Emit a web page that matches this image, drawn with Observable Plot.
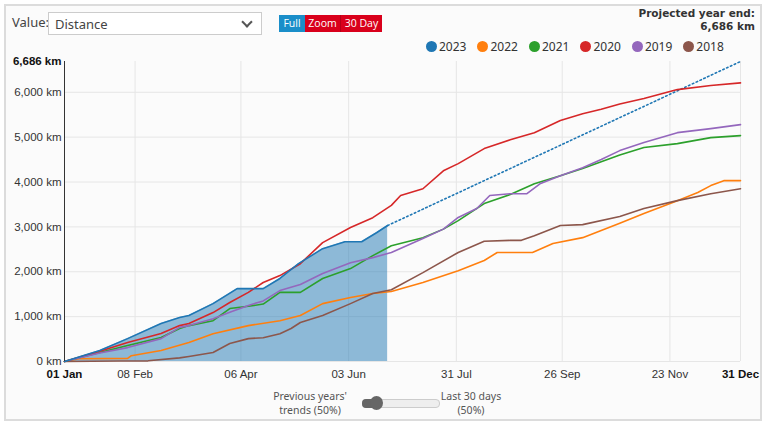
<!DOCTYPE html>
<html><head><meta charset="utf-8">
<script src="https://cdn.jsdelivr.net/npm/d3@7"></script>
<script src="https://cdn.jsdelivr.net/npm/@observablehq/plot@0.6"></script>
<style>
body{margin:0;background:#fff;font-family:"Noto Sans",sans-serif;}
#page{position:absolute;left:0;top:0;width:768px;height:427px;overflow:hidden;}
#frame{position:absolute;left:4px;top:4px;width:758px;height:417px;border:2px solid #dcdcdc;background:#fbfbfb;box-sizing:border-box;}
.lbl{position:absolute;font-size:13px;color:#444;}
#sel{position:absolute;left:48px;top:12px;width:214px;height:23px;border:1px solid #ccc;background:#fff;box-sizing:border-box;font-size:13px;color:#444;padding:2px 6px;}
#sel span.chev{position:absolute;right:10px;top:5px;width:6px;height:6px;border-right:2px solid #555;border-bottom:2px solid #555;transform:rotate(45deg);}
.btn{position:absolute;top:15px;height:17px;font-size:10.5px;color:#fff;line-height:17px;text-align:center;font-family:"Open Sans",sans-serif;}
#proj{position:absolute;right:13px;top:7px;text-align:right;font-size:10.5px;font-weight:bold;color:#333;line-height:13px;font-family:"DejaVu Sans",sans-serif;}
#legend{position:absolute;left:426px;top:38px;font-size:12px;color:#333;white-space:nowrap;}
#legend span{display:inline-block;margin-right:11px;}
#legend i{display:inline-block;width:11px;height:11px;border-radius:50%;vertical-align:-1px;margin-right:2px;}
#chart{position:absolute;left:0;top:50px;}
.bt{position:absolute;font-size:10.5px;color:#555;text-align:center;line-height:14px;}
#track{position:absolute;left:362px;top:399px;width:76px;height:7px;border:1px solid #ccc;border-radius:4px;background:#eee;}
#fillbar{position:absolute;left:362px;top:399px;width:16px;height:9px;border-radius:4px;background:#666;}
#knob{position:absolute;left:370px;top:396px;width:13px;height:14px;border-radius:50%;background:#666;}
</style></head>
<body>
<div id="page">
<div id="frame"></div>
<div class="lbl" style="left:12px;top:13px;">Value:</div>
<div id="sel">Distance<span class="chev"></span></div>
<div class="btn" style="left:279px;width:26px;background:#1a8ec9;">Full</div>
<div class="btn" style="left:305px;width:35px;background:#d9001b;">Zoom</div>
<div class="btn" style="left:340px;width:41px;background:#d9001b;border-left:1px solid #b50016;">30 Day</div>
<div id="proj">Projected year end:<br>6,686 km</div>
<div id="legend"></div>
<div id="chart"></div>
<div class="bt" style="left:258px;top:389px;width:104px;">Previous years'<br>trends (50%)</div>
<div id="track"></div><div id="fillbar"></div><div id="knob"></div>
<div class="bt" style="left:436px;top:389px;width:70px;">Last 30 days<br>(50%)</div>
</div>
<script>
// ---- data (day of year, cumulative km) ----
const years = ["2023","2022","2021","2020","2019","2018"];
const colors = ["#1f77b4","#ff7f0e","#2ca02c","#d62728","#9467bd","#8c564b"];

const days2023 = [0,19,34,52,62,67,80,93,107,116,126,139,151,160,168,174];
const km2023   = [0,245,510,845,980,1025,1290,1625,1625,1850,2180,2515,2670,2670,2870,3030];

const days2022 = [0,8,34,36,52,67,80,99,116,127,139,154,166,176,193,212,226,233,252,263,279,289,299,312,330,341,348,355,364];
const km2022   = [0,60,70,130,245,425,620,800,910,1025,1290,1425,1515,1560,1760,2025,2250,2430,2430,2630,2760,2920,3080,3300,3585,3765,3920,4030,4030];

const days2021 = [0,19,34,52,62,67,80,89,99,107,116,127,139,154,166,176,193,204,212,226,240,253,267,279,289,299,312,330,348,364];
const km2021   = [0,200,355,535,735,800,910,1180,1230,1280,1540,1540,1850,2070,2360,2580,2760,2950,3140,3520,3720,3960,4140,4300,4450,4600,4770,4855,4990,5035];

const days2020 = [0,19,34,52,62,67,80,89,99,107,116,127,139,154,166,176,181,193,204,212,226,240,253,267,279,289,299,312,330,348,364];
const km2020   = [0,230,425,625,800,845,1090,1315,1540,1760,1915,2180,2650,2985,3205,3480,3700,3850,4250,4410,4745,4940,5100,5370,5520,5620,5740,5860,6060,6150,6210];

const days2019 = [0,19,34,52,62,67,80,89,99,107,116,127,139,154,166,176,193,204,212,222,229,240,249,256,267,279,289,299,312,330,348,364];
const km2019   = [0,190,310,510,760,800,955,1100,1250,1350,1580,1715,1960,2200,2315,2430,2740,2950,3210,3410,3700,3740,3740,3960,4140,4320,4500,4700,4880,5100,5190,5280];

const days2018 = [0,30,45,62,67,80,89,99,107,116,122,127,139,154,166,176,193,212,226,240,246,253,267,279,299,312,330,348,364];
const km2018   = [0,10,15,80,110,200,400,510,530,620,735,870,1025,1290,1515,1600,1980,2430,2680,2700,2700,2800,3030,3050,3230,3410,3585,3740,3850];

const projDays = [174,364];
const projKm   = [3030,6686];

const yTicks = [0,1000,2000,3000,4000,5000,6000,6686];
const xTickDays = [0,38,95,153,211,268,326,364];

// ---- build ----
const base = Date.UTC(2023,0,1);
const toDate = d => new Date(base + d*864e5);
const seriesDays = {"2023":days2023,"2022":days2022,"2021":days2021,"2020":days2020,"2019":days2019,"2018":days2018};
const seriesKm = {"2023":km2023,"2022":km2022,"2021":km2021,"2020":km2020,"2019":km2019,"2018":km2018};
const rows = years.flatMap(y => seriesDays[y].map((d,i)=>({year:y,date:toDate(d),km:seriesKm[y][i]})));
const cur = rows.filter(r=>r.year==="2023");
const others = rows.filter(r=>r.year!=="2023");
const proj = projDays.map((d,i)=>({date:toDate(d),km:projKm[i]}));
const xTicks = xTickDays.map(toDate);

const fmtDate = d3.utcFormat("%d %b");
const chart = Plot.plot({
  width:768, height:335,
  marginLeft:64, marginRight:28, marginTop:11, marginBottom:24,
  style:{fontFamily:"Liberation Sans, Arial, sans-serif", fontSize:"11.5px", color:"#333", background:"transparent"},
  x:{type:"utc", domain:[toDate(0),toDate(364)], ticks:xTicks, tickFormat:fmtDate, tickSize:0, tickPadding:8, label:null},
  y:{domain:[0,6686], ticks:yTicks, tickFormat:d=>d3.format(",")(d)+" km", tickSize:0, tickPadding:3, label:null},
  color:{domain:years, range:colors},
  marks:[
    Plot.ruleX(xTicks.slice(1,-1), {stroke:"#e6e6e6", strokeWidth:1}),
    Plot.ruleX([toDate(364)], {stroke:"#e6e6e6"}),
    Plot.ruleY(yTicks.filter(t=>t<6686), {stroke:"#e6e6e6", strokeWidth:1}),
    Plot.areaY(cur, {x:"date", y:"km", fill:"#1f77b4", fillOpacity:0.5}),
    Plot.line(proj, {x:"date", y:"km", stroke:"#1f77b4", strokeWidth:1.6, strokeDasharray:"1.6,2.6"}),
    Plot.line(others, {x:"date", y:"km", z:"year", stroke:"year", strokeWidth:1.6}),
    Plot.line(cur, {x:"date", y:"km", stroke:"year", strokeWidth:1.6}),
    Plot.ruleX([toDate(0)], {stroke:"#333", strokeWidth:1})
  ]
});
d3.select(chart).selectAll("text").each(function(){
  const t = this.textContent;
  if (t==="6,686 km" || t==="01 Jan" || t==="31 Dec") d3.select(this).attr("font-weight","bold").attr("fill","#111");
  else d3.select(this).attr("fill","#333");
});
document.getElementById("chart").appendChild(chart);

const lg = document.getElementById("legend");
years.forEach((y,i)=>{
  const s=document.createElement("span");
  s.innerHTML=`<i style="background:${colors[i]}"></i>${y}`;
  lg.appendChild(s);
});
</script>
</body></html>
